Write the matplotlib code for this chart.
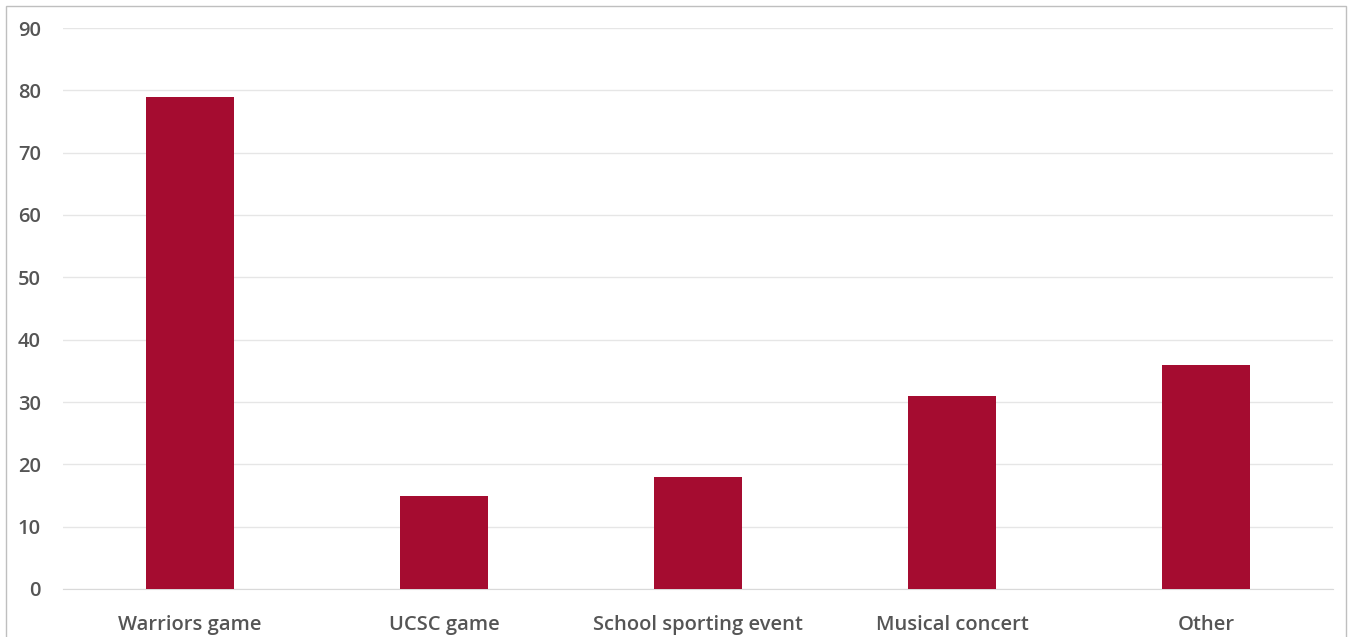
import matplotlib
matplotlib.use("Agg")
import matplotlib.pyplot as plt
from matplotlib.patches import Rectangle

categories = ["Warriors game", "UCSC game", "School sporting event", "Musical concert", "Other"]
counts = [79, 15, 18, 31, 36]
y_ticks = [0, 10, 20, 30, 40, 50, 60, 70, 80, 90]

W, H = 1356, 637
fig = plt.figure(figsize=(W / 100, H / 100), dpi=100)
ax = fig.add_axes([63 / W, 1 - 589 / H, (1333 - 63) / W, (589 - 28) / H])

ax.bar(range(len(categories)), counts, width=0.35, color="#A50C30", zorder=3)

ax.set_xlim(-0.5, len(categories) - 0.5)
ax.set_ylim(0, 90)
ax.set_yticks(y_ticks)
ax.set_xticks(range(len(categories)))
ax.set_xticklabels(categories)
ax.yaxis.grid(True, color="#E6E6E6", linewidth=1)
ax.set_axisbelow(True)
for s in ax.spines.values():
    s.set_visible(False)
ax.spines["bottom"].set_visible(True)
ax.spines["bottom"].set_color("#D9D9D9")
ax.tick_params(axis="both", length=0, labelsize=14.5, labelcolor="#555555")
ax.tick_params(axis="y", pad=16)
ax.tick_params(axis="x", pad=19)
for lab in ax.get_xticklabels() + ax.get_yticklabels():
    lab.set_fontfamily("Open Sans")
    lab.set_fontweight("semibold")

# thin frame round the whole chart
fig.patches.append(Rectangle((6 / W, -0.01), (1346 - 6) / W, 1 - 6 / H + 0.01,
                             transform=fig.transFigure, fill=False,
                             edgecolor="#BFBFBF", linewidth=1))

fig.savefig("out.png", dpi=100, facecolor="white")
